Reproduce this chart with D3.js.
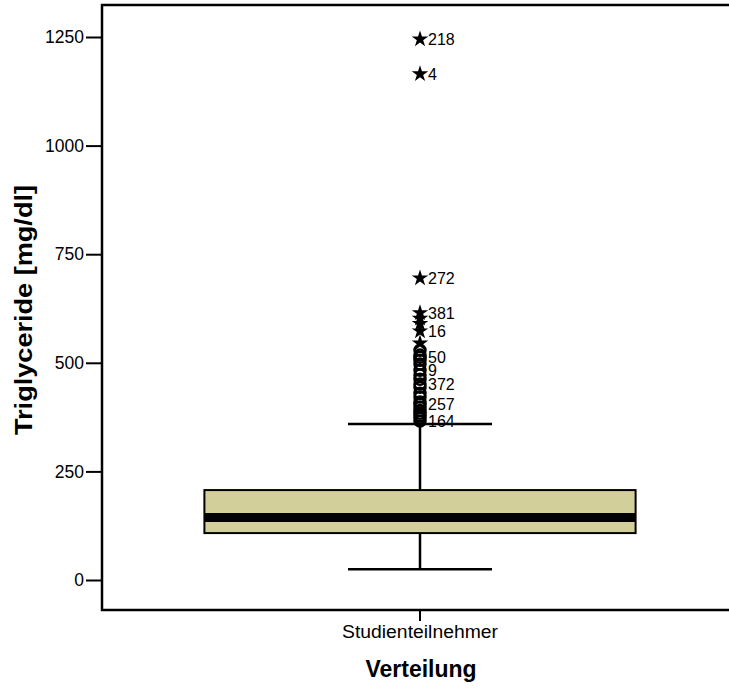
<!DOCTYPE html>
<html>
<head>
<meta charset="utf-8">
<script src="https://cdn.jsdelivr.net/npm/d3@7"></script>
<style>
  html, body { margin: 0; padding: 0; background: #fff; }
  svg { display: block; }
  text { font-family: "Liberation Sans", Arial, sans-serif; fill: #000; }
</style>
</head>
<body>
<svg id="chart" width="729" height="688"></svg>
<script>
// Box plot of triglyceride values (mg/dl) for the study participants
const categories = ["Studienteilnehmer"];
const yTicks = [0, 250, 500, 750, 1000, 1250];

// Five-number summary: lower whisker, Q1, median, Q3, upper whisker
const whiskerLow = [25];
const q1 = [108];
const median = [144];
const q3 = [207];
const whiskerHigh = [359];

// Mild outliers (circles) and extreme outliers (stars)
const mildOutliers = [529, 518, 513, 506, 497, 483, 472, 462, 451, 444, 430, 421, 410, 405, 398, 390, 384, 378, 373, 366];
const extremeOutliers = [1245, 1165, 695, 615, 602, 590, 573, 545];

// Case numbers shown next to some outliers
const labelValues = [1245, 1165, 695, 615, 573, 513, 483, 451, 405, 366];
const labelCases = ["218", "4", "272", "381", "16", "50", "9", "372", "257", "164"];

const svg = d3.select("#chart");
const frame = { left: 102, right: 729, top: 5, bottom: 610 };
const font = "Liberation Sans, Arial, sans-serif";

const y = d3.scaleLinear().domain([0, 1250]).range([580, 37]);
const x = d3.scaleBand().domain(categories).range([112, 728]).paddingInner(0).paddingOuter(0);

const cx = x(categories[0]) + x.bandwidth() / 2;
const boxW = x.bandwidth() * 0.7;
const capW = 144;

// Plot frame: top, left and bottom edges
svg.append("path")
  .attr("d", `M${frame.right},${frame.top}H${frame.left}V${frame.bottom}H${frame.right}`)
  .attr("fill", "none").attr("stroke", "#000").attr("stroke-width", 2.5);

// Y axis
const yAxis = d3.axisLeft(y).tickValues(yTicks).tickSize(16).tickPadding(2).tickFormat(d3.format("d"));
const gy = svg.append("g").attr("transform", `translate(${frame.left},0)`).call(yAxis);
gy.select(".domain").remove();
gy.selectAll("line").attr("stroke", "#000").attr("stroke-width", 2);
gy.selectAll("text").attr("font-size", 17.5).attr("font-family", font);

// X axis
const xAxis = d3.axisBottom(x).tickSize(11).tickPadding(5);
const gx = svg.append("g").attr("transform", `translate(0,${frame.bottom})`).call(xAxis);
gx.select(".domain").remove();
gx.selectAll("line").attr("stroke", "#000").attr("stroke-width", 2);
gx.selectAll("text")
  .attr("font-size", 17.5).attr("font-family", font)
  .attr("textLength", 156).attr("lengthAdjust", "spacingAndGlyphs");

// Axis titles
svg.append("text")
  .attr("transform", `translate(32,${310}) rotate(-90)`)
  .attr("text-anchor", "middle")
  .attr("font-size", 24).attr("font-weight", "bold")
  .attr("textLength", 250).attr("lengthAdjust", "spacingAndGlyphs")
  .text("Triglyceride [mg/dl]");
svg.append("text")
  .attr("x", cx + 1).attr("y", 677)
  .attr("text-anchor", "middle")
  .attr("font-size", 23).attr("font-weight", "bold")
  .attr("textLength", 111).attr("lengthAdjust", "spacingAndGlyphs")
  .text("Verteilung");

const g = svg.append("g");

// Whisker stem
g.append("line")
  .attr("x1", cx).attr("x2", cx)
  .attr("y1", y(whiskerLow[0])).attr("y2", y(whiskerHigh[0]))
  .attr("stroke", "#000").attr("stroke-width", 2.5);

// Whisker caps
[whiskerLow[0], whiskerHigh[0]].forEach(v => {
  g.append("line")
    .attr("x1", cx - capW / 2).attr("x2", cx + capW / 2)
    .attr("y1", y(v)).attr("y2", y(v))
    .attr("stroke", "#000").attr("stroke-width", 2.5);
});

// Box
g.append("rect")
  .attr("x", cx - boxW / 2).attr("width", boxW)
  .attr("y", y(q3[0])).attr("height", y(q1[0]) - y(q3[0]))
  .attr("fill", "#d3cf9a").attr("stroke", "#000").attr("stroke-width", 2);

// Median band
g.append("line")
  .attr("x1", cx - boxW / 2).attr("x2", cx + boxW / 2)
  .attr("y1", y(median[0])).attr("y2", y(median[0]))
  .attr("stroke", "#000").attr("stroke-width", 9);

// Mild outliers
g.selectAll("circle.mild").data(mildOutliers).join("circle")
  .attr("class", "mild")
  .attr("cx", cx).attr("cy", d => y(d)).attr("r", 5.5)
  .attr("fill", "none").attr("stroke", "#000").attr("stroke-width", 2.5);

// Extreme outliers
const star = d3.symbol().type(d3.symbolStar).size(85);
g.selectAll("path.extreme").data(extremeOutliers).join("path")
  .attr("class", "extreme")
  .attr("transform", d => `translate(${cx},${y(d)})`)
  .attr("d", star).attr("fill", "#000");

// Case labels
g.selectAll("text.case").data(labelValues).join("text")
  .attr("class", "case")
  .attr("x", cx + 8).attr("y", d => y(d))
  .attr("dy", "0.36em")
  .attr("font-size", 16)
  .text((d, i) => labelCases[i]);
</script>
</body>
</html>
